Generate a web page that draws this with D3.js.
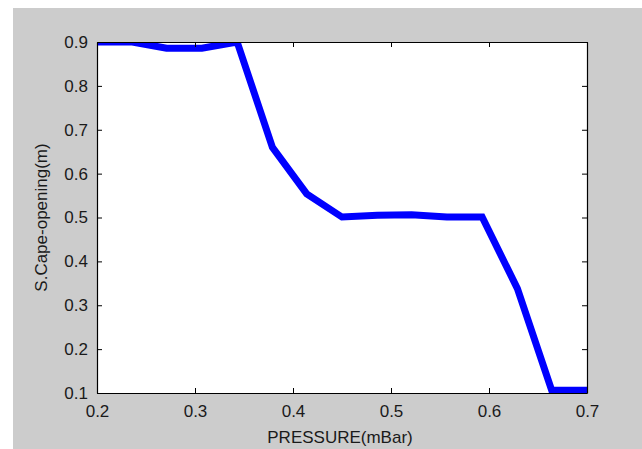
<!DOCTYPE html>
<html>
<head>
<meta charset="utf-8">
<script src="https://cdn.jsdelivr.net/npm/d3@7"></script>
<style>
  body { margin: 0; background: #fff; }
  text { font-family: "Liberation Sans", Arial, sans-serif; }
</style>
</head>
<body>
<div id="chart"></div>
<script>
// data
var pressure = [0.2, 0.236, 0.271, 0.307, 0.343, 0.379, 0.414, 0.45, 0.486, 0.521, 0.557, 0.593, 0.629, 0.664, 0.7];
var opening  = [0.9, 0.9, 0.886, 0.886, 0.9, 0.66, 0.554, 0.501, 0.505, 0.506, 0.501, 0.501, 0.338, 0.106, 0.106];

var xTicks = [0.2, 0.3, 0.4, 0.5, 0.6, 0.7];
var yTicks = [0.1, 0.2, 0.3, 0.4, 0.5, 0.6, 0.7, 0.8, 0.9];

var xLabel = "PRESSURE(mBar)";
var yLabel = "S.Cape-opening(m)";

var W = 642, H = 449;
var plot = {left: 97, right: 587, top: 42, bottom: 393};

var data = pressure.map(function(p, i){ return {p: p, o: opening[i]}; });

var x = d3.scaleLinear()
          .domain([0.2, 0.7])
          .range([plot.left, plot.right]);

var y = d3.scaleLinear()
          .domain([0.1, 0.9])
          .range([plot.bottom, plot.top]);

var svg = d3.select("#chart")
            .append("svg")
            .attr("width", W)
            .attr("height", H);

// grey figure background
svg.append("rect")
   .attr("x", 13).attr("y", 8)
   .attr("width", W - 13).attr("height", H - 8)
   .attr("fill", "#cccccc");

// white axes area
svg.append("rect")
   .attr("x", plot.left).attr("y", plot.top)
   .attr("width", plot.right - plot.left)
   .attr("height", plot.bottom - plot.top)
   .attr("fill", "#fff");

svg.append("clipPath")
   .attr("id", "clip")
   .append("rect")
   .attr("x", plot.left).attr("y", plot.top)
   .attr("width", plot.right - plot.left)
   .attr("height", plot.bottom - plot.top);

var line = d3.line()
             .x(function(d){ return x(d.p); })
             .y(function(d){ return y(d.o); });

svg.append("path")
   .datum(data)
   .attr("clip-path", "url(#clip)")
   .attr("fill", "none")
   .attr("stroke", "#0000ff")
   .attr("stroke-width", 7)
   .attr("d", line);

var fmt = d3.format(".1f");

// axes, ticks pointing inwards like matlab
var gx = svg.append("g")
    .attr("transform", "translate(0," + plot.bottom + ")")
    .call(d3.axisBottom(x).tickValues(xTicks).tickFormat(fmt).tickSizeInner(-5).tickSizeOuter(0).tickPadding(12));

var gy = svg.append("g")
    .attr("transform", "translate(" + plot.left + ",0)")
    .call(d3.axisLeft(y).tickValues(yTicks).tickFormat(fmt).tickSizeInner(-5).tickSizeOuter(0).tickPadding(9));

var gt = svg.append("g")
    .attr("transform", "translate(0," + plot.top + ")")
    .call(d3.axisTop(x).tickValues(xTicks).tickFormat("").tickSizeInner(-5).tickSizeOuter(0));

var gr = svg.append("g")
    .attr("transform", "translate(" + plot.right + ",0)")
    .call(d3.axisRight(y).tickValues(yTicks).tickFormat("").tickSizeInner(-5).tickSizeOuter(0));

[gx, gy, gt, gr].forEach(function(g){
  g.selectAll(".domain").attr("stroke", "#000").attr("stroke-width", 1.2);
  g.selectAll(".tick line").attr("stroke", "#000");
  g.selectAll("text")
   .attr("font-family", "'Liberation Sans', Arial, sans-serif")
   .attr("font-size", 17)
   .attr("fill", "#1a1a1a");
});

svg.append("text")
   .attr("x", 340)
   .attr("y", 443)
   .attr("text-anchor", "middle")
   .attr("font-size", 17)
   .attr("fill", "#1a1a1a")
   .text(xLabel);

svg.append("text")
   .attr("transform", "translate(47," + ((plot.top + plot.bottom) / 2) + ") rotate(-90)")
   .attr("text-anchor", "middle")
   .attr("font-size", 17)
   .attr("fill", "#1a1a1a")
   .text(yLabel);
</script>
</body>
</html>
